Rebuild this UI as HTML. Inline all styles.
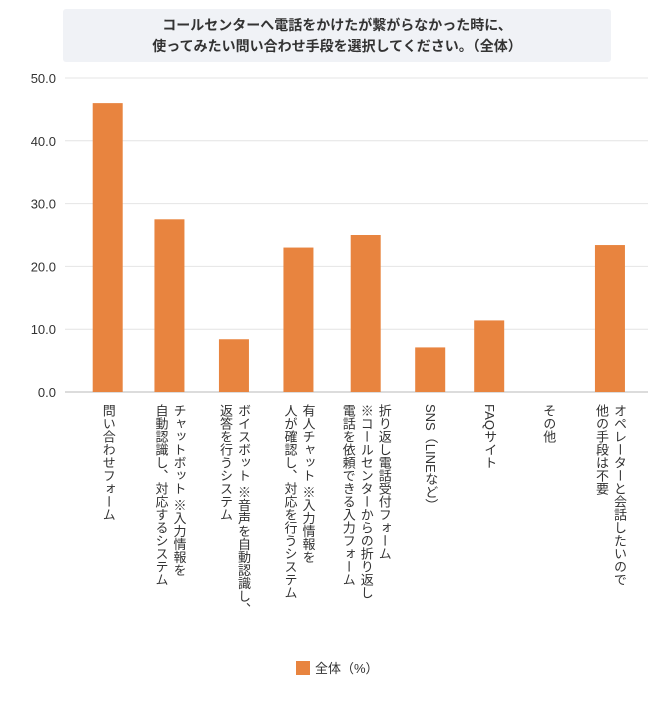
<!DOCTYPE html>
<html><head><meta charset="utf-8"><style>
body{margin:0;background:#fff;width:671px;height:701px;overflow:hidden;font-family:"Liberation Sans","Noto Sans CJK JP",sans-serif;}
#title{position:absolute;left:63px;top:9px;width:548px;height:53px;background:#f0f2f6;border-radius:3px;text-align:center;font-weight:bold;font-size:14px;line-height:21px;color:#333;padding-top:6px;box-sizing:border-box;}
</style></head><body>
<div id="title">コールセンターへ電話をかけたが繋がらなかった時に、<br>使ってみたい問い合わせ手段を選択してください。（全体）</div>
<svg id="chart" width="671" height="701" style="position:absolute;left:0;top:0"></svg>
<div id="labels"></div>
<script>
const categories=["問い合わせフォーム","チャットボット ※入力情報を\n自動認識し、対応するシステム","ボイスボット ※音声を自動認識し、\n返答を行うシステム","有人チャット ※入力情報を\n人が確認し、対応を行うシステム","折り返し電話受付フォーム\n※コールセンターからの折り返し\n電話を依頼できる入力フォーム","SNS（LINEなど）","FAQサイト","その他","オペレーターと会話したいので\n他の手段は不要"];
const values=[46.0,27.5,8.4,23.0,25.0,7.1,11.4,0,23.4];
const ticks=[0,10,20,30,40,50];
const ns="http://www.w3.org/2000/svg";
const svg=document.getElementById('chart');
const x0=65,x1=648,y0=392,yTop=78,maxV=50;
// category band half-widths depend on label line count (layout)
const lineCounts=categories.map(c=>c.split('\n').length);
const centers=[];
{let c=107.7;centers.push(c);for(let i=1;i<categories.length;i++){c+=26.75*2+2.75*(lineCounts[i-1]+lineCounts[i]);centers.push(c);}}
function yS(v){return y0-(v/maxV)*(y0-yTop);}
function xC(i){return centers[i];}
ticks.forEach(t=>{
 const l=document.createElementNS(ns,'line');
 l.setAttribute('x1',x0);l.setAttribute('x2',x1);l.setAttribute('y1',yS(t));l.setAttribute('y2',yS(t));
 l.setAttribute('stroke',t===0?'#d0d0d0':'#e4e4e4');l.setAttribute('stroke-width',t===0?1.5:1);
 
 
 svg.appendChild(l);
 const tx=document.createElementNS(ns,'text');
 tx.setAttribute('x',56);tx.setAttribute('y',yS(t)+5);tx.setAttribute('text-anchor','end');
 tx.setAttribute('font-size','13');tx.setAttribute('fill','#333');
 tx.textContent=t.toFixed(1);
 
 
 svg.appendChild(tx);
});
values.forEach((v,i)=>{
 const r=document.createElementNS(ns,'rect');
 const w=30;
 r.setAttribute('x',xC(i)-w/2);r.setAttribute('width',w);
 r.setAttribute('y',yS(v));r.setAttribute('height',y0-yS(v));
 r.setAttribute('fill','#e8843f');
 
 
 svg.appendChild(r);
});
const lab=document.getElementById('labels');
categories.forEach((c,i)=>{
 const d=document.createElement('div');
 const lines=lineCounts[i];
 const w=lines*18;
 d.style.cssText=`position:absolute;top:404px;left:${xC(i)-w/2}px;width:${w}px;writing-mode:vertical-rl;font-size:13px;line-height:18px;color:#333;white-space:pre;`;
 d.textContent=c;
 
 
 lab.appendChild(d);
});
</script>
<div style="position:absolute;left:296px;top:658px;font-size:13px;color:#333;">
<span style="display:inline-block;width:14px;height:14px;background:#e8843f;vertical-align:-2px;margin-right:5px"></span><span>全体（%）</span></div>
</body></html>
